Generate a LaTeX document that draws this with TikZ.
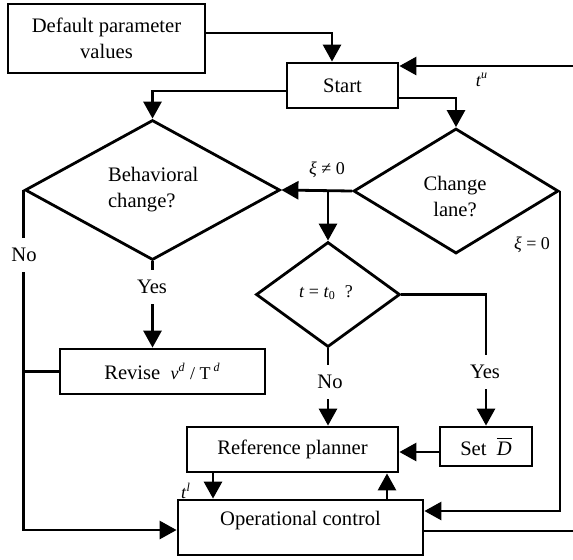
\documentclass[tikz,border=0pt]{standalone}
\usepackage{fontspec}
\setmainfont{Liberation Serif}
\usetikzlibrary{arrows.meta,shapes.geometric}
\begin{document}
\begin{tikzpicture}[x=0.5pt,y=-0.5pt,
  every node/.style={font=\fontsize{10.3}{13}\selectfont},
  box/.style={draw, line width=1.4pt, rectangle, inner sep=0pt, align=center},
  dia/.style={draw, line width=1.4pt, diamond, inner sep=0pt},
  ln/.style={line width=1.4pt},
  arr/.style={line width=1.4pt, -{Triangle[length=8.5pt,width=9pt]}},
  mlbl/.style={font=\fontsize{9}{10}\selectfont},
  gap/.style={fill=white, inner xsep=2pt, inner ysep=5pt}]
\useasboundingbox (0,0) rectangle (573,559);
% boxes
\node[box, minimum width=98.5pt, minimum height=34.5pt] (def) at (106.5,38.5) {Default parameter\\values};
\node[box, minimum width=55.5pt, minimum height=22.5pt] (start) at (342.5,85.5) {Start};
\node[box, minimum width=102.5pt, minimum height=22.5pt] (rev) at (162.5,371.5) {Revise\enspace{\fontsize{9}{10}\selectfont\textit{v}\textsuperscript{\textit{d}} / T\,\textsuperscript{\textit{d}}}};
\node[box, minimum width=105.5pt, minimum height=22.5pt] (ref) at (292.5,449.5) {Reference planner};
\node[box, minimum width=46pt, minimum height=19.5pt] (setd) at (486,446.5) {Set\enspace$\overline{\mbox{\textit{D}}}$};
\node[box, minimum width=122.5pt, minimum height=27.5pt] (op) at (300.5,527.5) {};
\node (opT) at (300.5,521) {Operational control};
% diamonds
\node[dia, minimum width=127.5pt, minimum height=70pt] (beh) at (152.5,190) {};
\node[anchor=west, align=left] (behT) at (101,190) {Behavioral\\change?};
\node[dia, minimum width=102.5pt, minimum height=62.5pt] (cl) at (456,191) {};
\node[align=center] (clT) at (455,196) {Change\\lane?};
\node[dia, minimum width=72pt, minimum height=52.5pt] (tt) at (328,294.5) {};
\node[mlbl] (ttT) at (326,293) {\textit{t} = \textit{t}\textsubscript{0}\enspace?};
% free ends at the right edge
\coordinate (eu) at (573,66);
\coordinate (eo) at (573,531);
% connectors
\draw[arr] ([yshift=2.75pt]def.east) -| ([xshift=-5.25pt]start.north);
\draw[arr] (eu) -- (eu -| start.east);
\node[mlbl] (tu) at (482,80) {\textit{t}\textsuperscript{\textit{u}}};
\draw[arr] ([yshift=-2.75pt]start.west) -| (beh.north);
\draw[arr] ([yshift=-6.25pt]start.east) -| (cl.north);
\draw[arr] (cl.west) -- (beh.east);
\draw[arr] (cl.west -| tt.north) -- (tt.north);
\node[mlbl] (xne) at (327,170) {\textit{ξ} ≠ 0};
\draw[arr] (cl.east) |- ([yshift=8.25pt]op.east);
\node[mlbl] (xeq) at (532,245) {\textit{ξ} = 0};
\draw[arr] (tt.east) -| (setd.north);
\node[gap] (yes2) at (485,372) {Yes};
\draw[arr] (tt.south) -- (tt.south |- ref.north);
\node[gap] (no2) at (330,382) {No};
\draw[arr] (beh.south) -- (beh.south |- rev.north);
\node[gap] (yes1) at (152,287) {Yes};
\draw[arr] (beh.west) |- ([yshift=-1.25pt]op.west);
\node[gap] (no1) at (24,255) {No};
\draw[ln] (rev.west) -- (rev.west -| beh.west);
\draw[arr] ([yshift=-2.75pt]setd.west) -- ([yshift=-2.75pt]setd.west -| ref.east);
\draw[arr] ([xshift=-39.75pt]ref.south) -- ([xshift=-39.75pt]ref.south |- op.north);
\node[mlbl] (tl) at (186,491) {\textit{t}\textsuperscript{\textit{l}}};
\draw[arr] ([xshift=43.25pt]op.north) -- ([xshift=43.25pt]op.north |- ref.south);
\draw[ln] ([yshift=-1.75pt]op.east) -- (eo);
\end{tikzpicture}
\end{document}
